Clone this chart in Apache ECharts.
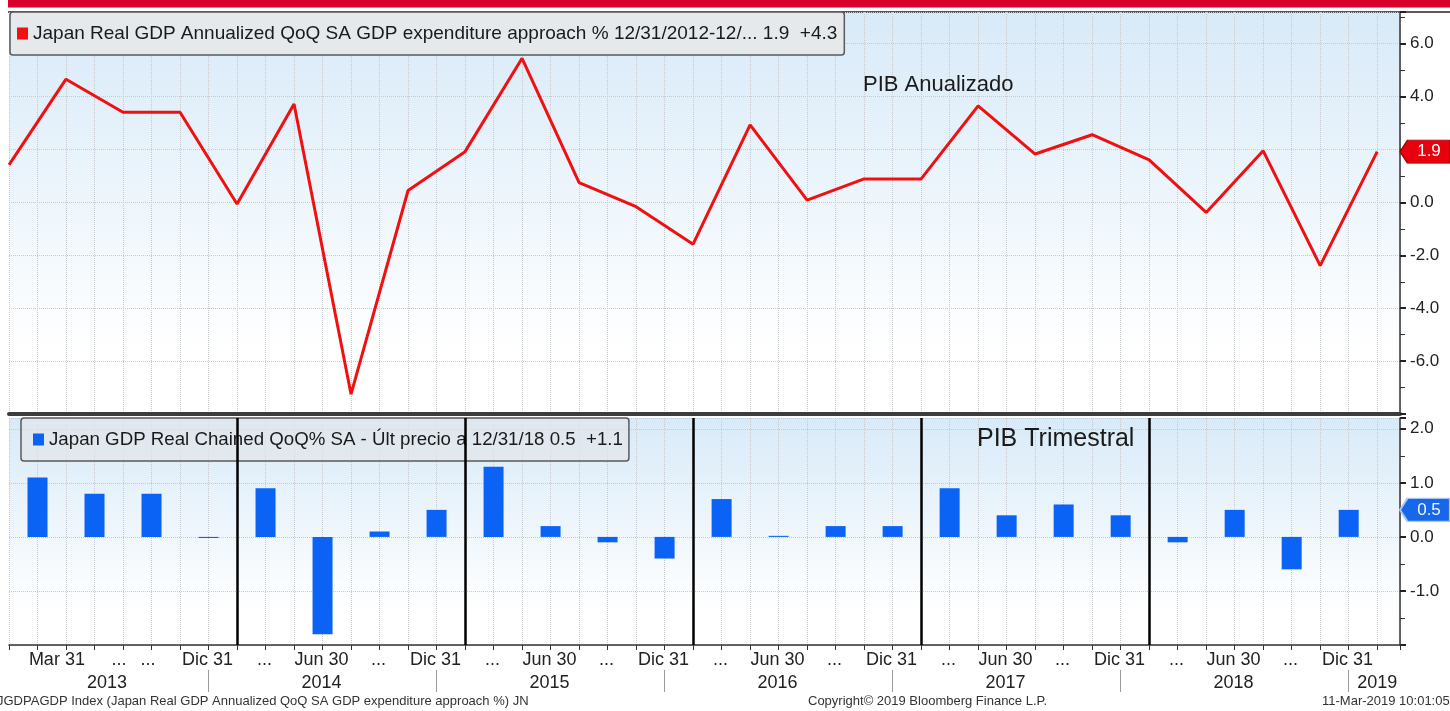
<!DOCTYPE html>
<html>
<head>
<meta charset="utf-8">
<title>Japan GDP</title>
<script src="https://cdn.jsdelivr.net/npm/echarts@6/dist/echarts.min.js"></script>
<style>
  html, body { margin: 0; padding: 0; background: #fff; }
  #chart_gdp { width: 1450px; height: 711px; }
</style>
</head>
<body>
<div id="chart_gdp"></div>
<script>
// PIB anualizado (linea), fin de trimestre 12/31/2012 ... 12/31/2018
const gdpAnnualized = [1.42, 4.66, 3.41, 3.41, -0.06, 3.72, -7.25, 0.45, 1.92, 5.45, 0.75, -0.16, -1.58,
  2.93, 0.09, 0.89, 0.89, 3.65, 1.83, 2.56, 1.61, -0.38, 1.95, -2.39, 1.92]
// PIB trimestral (barras), Q1 2013 ... Q4 2018
const gdpQoQ = [1.1, 0.8, 0.8, -0.02, 0.9, -1.8, 0.1, 0.5, 1.3, 0.2, -0.1, -0.4,
  0.7, 0.02, 0.2, 0.2, 0.9, 0.4, 0.6, 0.4, -0.1, 0.5, -0.6, 0.5]
// etiquetas del eje x
const quarterLabels = ['Mar 31', '...', '...', 'Dic 31',
  '...', 'Jun 30', '...', 'Dic 31',
  '...', 'Jun 30', '...', 'Dic 31',
  '...', 'Jun 30', '...', 'Dic 31',
  '...', 'Jun 30', '...', 'Dic 31',
  '...', 'Jun 30', '...', 'Dic 31']
const yearLabels = ['2013', '2014', '2015', '2016', '2017', '2018', '2019']

const lineName = 'Japan Real GDP Annualized QoQ SA GDP expenditure approach % 12/31/2012-12/... 1.9  +4.3'
const barName = 'Japan GDP Real Chained QoQ% SA - Últ precio a 12/31/18 0.5  +1.1'

// layout (posicion de etiquetas, en trimestres)
const X_MAX = 24.4
const labelShift = { 0: 0.84, 1: 1.93, 2: 2.44 }
const quarterLabelPos = quarterLabels.map((t, i) => labelShift[i] !== undefined ? labelShift[i] : i + 0.48)
const yearLabelPos = [1.72, 5.48, 9.48, 13.48, 17.48, 21.48, 24.0]
const yearSepPos = quarterLabels.map((t, i) => i + 0.5).filter((p, i) => i % 4 === 3)
const yearLines = gdpQoQ.map((v, i) => i).filter(i => i > 0 && i % 4 === 0)

const labelMap = {}
quarterLabelPos.forEach((p, i) => { labelMap[p.toFixed(3)] = quarterLabels[i] })
const yearMap = {}
yearLabelPos.forEach((p, i) => { yearMap[p.toFixed(3)] = yearLabels[i] })

const FONT = 'Liberation Sans'
const gridBg = {
  type: 'linear', x: 0, y: 0, x2: 0, y2: 1,
  colorStops: [{ offset: 0, color: '#d8eaf8' }, { offset: 0.85, color: '#ffffff' }, { offset: 1, color: '#ffffff' }]
}
const dotted = { show: true, lineStyle: { color: '#c6cacf', type: 'dotted', width: 1 } }
const tagPath = 'path://M0,12L9,0H60V24H9Z'

const option = {
  animation: false,
  textStyle: { fontFamily: FONT },
  graphic: [
    { type: 'rect', shape: { x: 8, y: 0, width: 1442, height: 7.5 }, style: { fill: '#d9002b' } },
    { type: 'line', shape: { x1: 8, y1: 12, x2: 1450, y2: 12 }, style: { stroke: '#222', lineWidth: 1.5 } }
  ],
  title: [
    { text: 'PIB Anualizado', left: 863, top: 74, padding: 0, textStyle: { fontSize: 22, fontWeight: 'normal', color: '#1a1a1a', fontFamily: FONT } },
    { text: 'PIB Trimestral', left: 977, top: 427, padding: 0, textStyle: { fontSize: 25, fontWeight: 'normal', color: '#1a1a1a', fontFamily: FONT } },
    { text: 'JGDPAGDP Index (Japan Real GDP Annualized QoQ SA GDP expenditure approach %) JN', left: -3, top: 695, padding: 0, textStyle: { fontSize: 13, fontWeight: 'normal', color: '#333', fontFamily: FONT } },
    { text: 'Copyright© 2019 Bloomberg Finance L.P.', left: 808, top: 695, padding: 0, textStyle: { fontSize: 13, fontWeight: 'normal', color: '#333', fontFamily: FONT } },
    { text: '11-Mar-2019 10:01:05', left: 1322, top: 695, padding: 0, textStyle: { fontSize: 13, fontWeight: 'normal', color: '#333', fontFamily: FONT } }
  ],
  legend: [
    {
      data: [lineName], left: 10, top: 12, z: 1, selectedMode: false,
      icon: 'rect', itemWidth: 11, itemHeight: 12, itemGap: 0,
      padding: [12, 7, 12, 7],
      backgroundColor: '#e6e9ec', borderColor: '#5a5a5a', borderWidth: 1.5, borderRadius: 3,
      textStyle: { fontSize: 19, color: '#1a1a1a', fontFamily: FONT }
    },
    {
      data: [barName], left: 21, top: 418, z: 1, selectedMode: false,
      icon: 'rect', itemWidth: 11, itemHeight: 12, itemGap: 0,
      padding: [12, 6, 12, 12],
      backgroundColor: 'rgba(226,230,234,0.7)', borderColor: '#5a5a5a', borderWidth: 1.5, borderRadius: 3,
      textStyle: { fontSize: 18.7, color: '#1a1a1a', fontFamily: FONT }
    }
  ],
  grid: [
    { left: 9, right: 50, top: 12, height: 402, show: true, borderWidth: 0, backgroundColor: gridBg },
    { left: 9, right: 50, top: 418, height: 227, show: true, borderWidth: 0, backgroundColor: gridBg }
  ],
  xAxis: [
    {
      gridIndex: 0, type: 'value', min: 0, max: X_MAX, interval: 0.5, position: 'bottom',
      axisLine: { show: true, onZero: false, lineStyle: { color: '#3d3d3d', width: 4 } },
      axisTick: { show: false }, axisLabel: { show: false }, splitLine: dotted
    },
    {
      gridIndex: 1, type: 'value', min: 0, max: X_MAX, interval: 0.5, position: 'bottom',
      axisLine: { show: true, onZero: false, lineStyle: { color: '#333', width: 1.5 } },
      axisTick: { show: true, length: 5, lineStyle: { color: '#333' } },
      splitLine: dotted,
      axisLabel: {
        customValues: quarterLabelPos, margin: 6, fontSize: 18, color: '#222', fontFamily: FONT,
        formatter: v => labelMap[Number(v).toFixed(3)] || ''
      }
    },
    {
      gridIndex: 1, type: 'value', min: 0, max: X_MAX, position: 'bottom', offset: 25,
      axisLine: { show: false, onZero: false },
      axisTick: { show: true, customValues: yearSepPos, length: 22, lineStyle: { color: '#9a9a9a', width: 1 } },
      splitLine: { show: false },
      axisLabel: {
        customValues: yearLabelPos, margin: 4, fontSize: 18, color: '#222', fontFamily: FONT,
        formatter: v => yearMap[Number(v).toFixed(3)] || ''
      }
    }
  ],
  yAxis: [
    {
      gridIndex: 0, type: 'value', position: 'right', min: -8, max: 7.2, interval: 2,
      axisLine: { show: true, onZero: false, lineStyle: { color: '#333', width: 1.5 } },
      axisTick: { show: true, length: 6, lineStyle: { color: '#222', width: 2 } },
      minorTick: { show: true, splitNumber: 2, length: 5, lineStyle: { color: '#333' } },
      splitLine: dotted,
      axisLabel: {
        showMinLabel: false, showMaxLabel: false, margin: 10, fontSize: 17, color: '#222', fontFamily: FONT,
        formatter: v => v.toFixed(1)
      }
    },
    {
      gridIndex: 1, type: 'value', position: 'right', min: -2, max: 2.2, interval: 1,
      axisLine: { show: true, onZero: false, lineStyle: { color: '#333', width: 1.5 } },
      axisTick: { show: true, length: 6, lineStyle: { color: '#222', width: 2 } },
      minorTick: { show: true, splitNumber: 2, length: 5, lineStyle: { color: '#333' } },
      splitLine: dotted,
      axisLabel: {
        showMinLabel: false, showMaxLabel: false, margin: 10, fontSize: 17, color: '#222', fontFamily: FONT,
        formatter: v => v.toFixed(1)
      }
    }
  ],
  series: [
    {
      name: lineName, type: 'line', xAxisIndex: 0, yAxisIndex: 0,
      data: gdpAnnualized.map((v, i) => [i, v]),
      symbol: 'none', itemStyle: { color: '#f01010' },
      lineStyle: { color: '#f01010', width: 3 },
      markPoint: {
        symbol: tagPath, symbolSize: [50, 23], symbolOffset: ['50%', 0], silent: true,
        itemStyle: { color: '#e8000d', borderColor: '#a00000', borderWidth: 1 },
        label: { show: true, position: 'inside', offset: [4, 0], color: '#fff', fontSize: 17, fontFamily: FONT,
          formatter: p => Number(p.value).toFixed(1) },
        data: [{ coord: [X_MAX, gdpAnnualized[gdpAnnualized.length - 1]], value: gdpAnnualized[gdpAnnualized.length - 1] }]
      }
    },
    {
      name: barName, type: 'bar', xAxisIndex: 1, yAxisIndex: 1,
      data: gdpQoQ.map((v, i) => [i + 0.5, v]),
      barWidth: 20, itemStyle: { color: '#0b63f6' },
      markLine: {
        silent: true, symbol: 'none', label: { show: false },
        lineStyle: { color: '#000', width: 2.5, type: 'solid' },
        data: yearLines.map(q => ({ xAxis: q }))
      },
      markPoint: {
        symbol: tagPath, symbolSize: [50, 23], symbolOffset: ['50%', 0], silent: true,
        itemStyle: { color: '#1667e9', borderColor: '#a8c6f2', borderWidth: 1.5 },
        label: { show: true, position: 'inside', offset: [4, 0], color: '#eef4ff', fontSize: 17, fontFamily: FONT,
          formatter: p => Number(p.value).toFixed(1) },
        data: [{ coord: [X_MAX, gdpQoQ[gdpQoQ.length - 1]], value: gdpQoQ[gdpQoQ.length - 1] }]
      }
    }
  ]
}

const chart_gdp = echarts.init(document.getElementById('chart_gdp'))
chart_gdp.setOption(option)
</script>
</body>
</html>
